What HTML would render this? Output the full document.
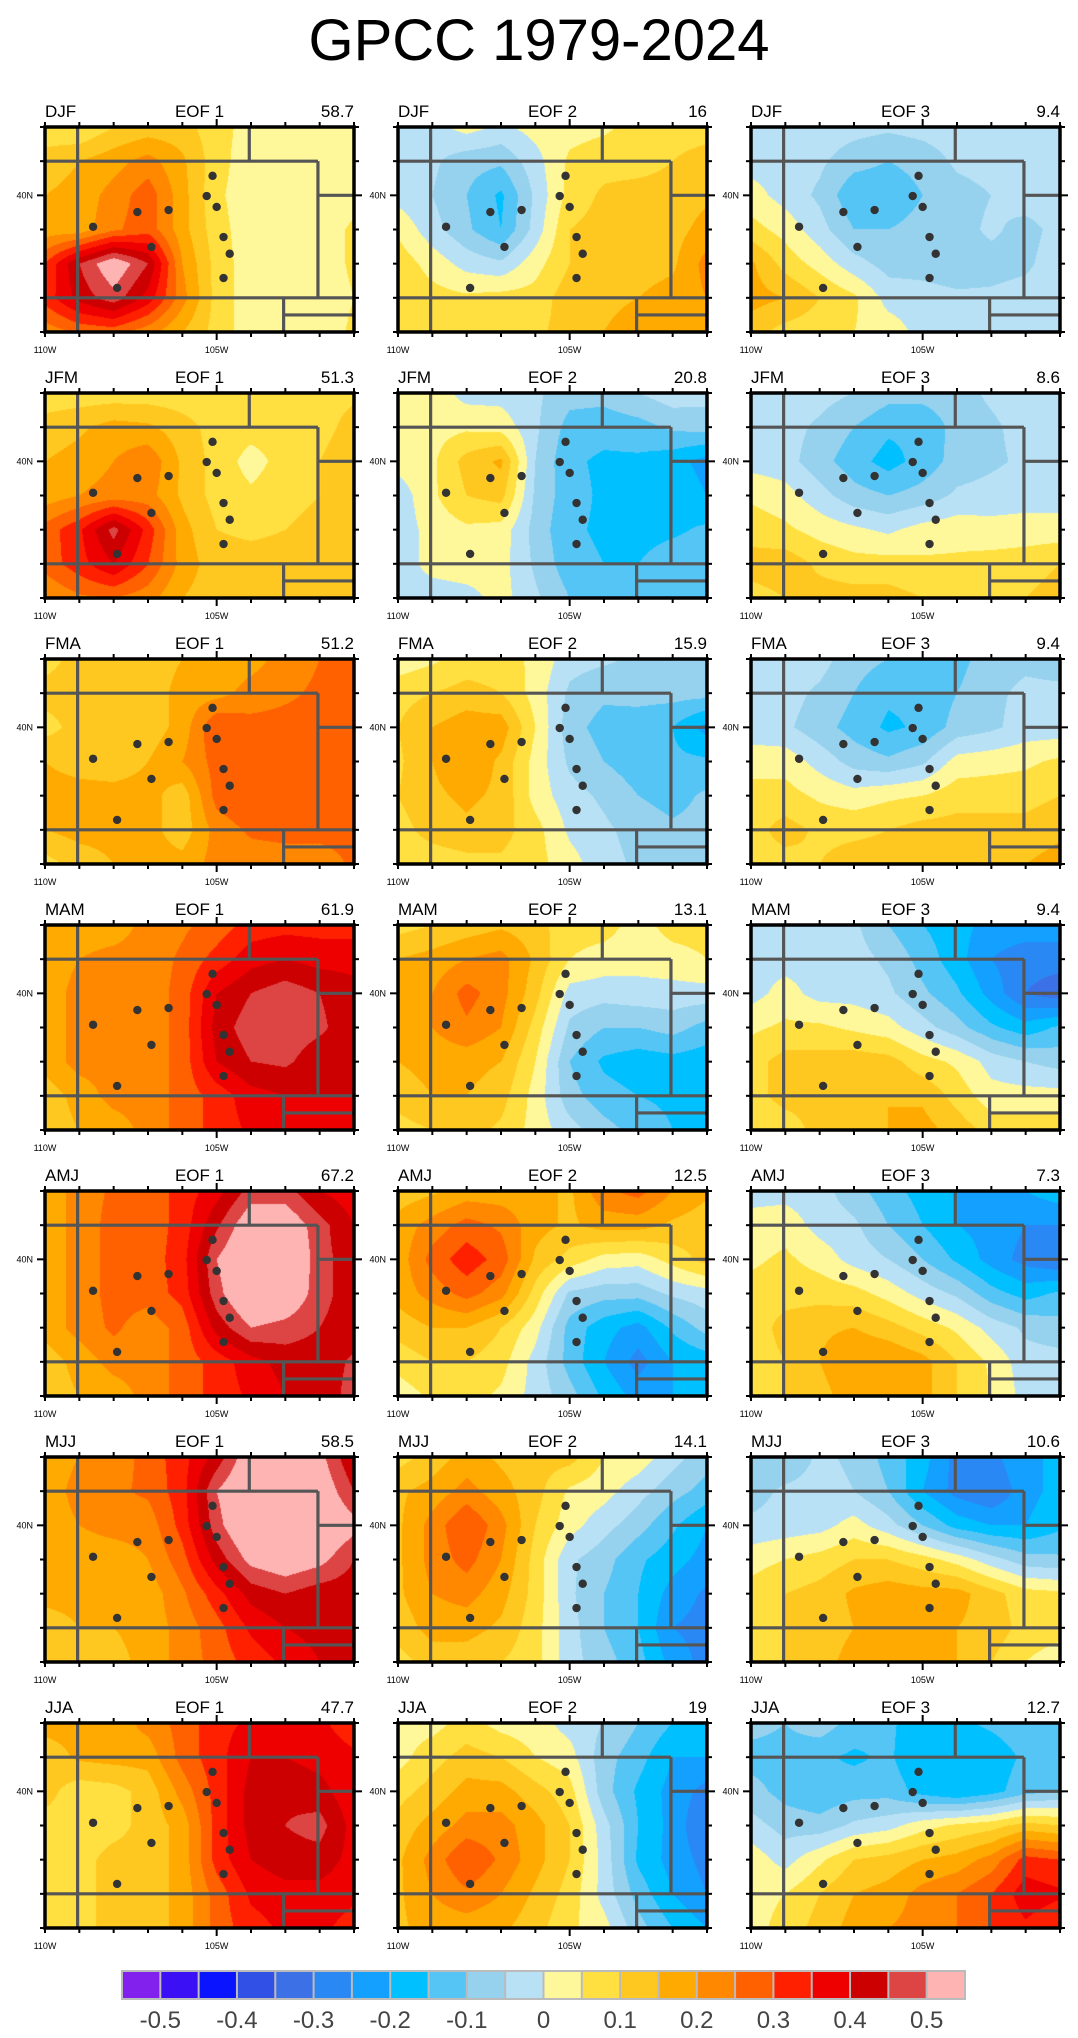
<!DOCTYPE html>
<html><head><meta charset="utf-8">
<style>
html,body{margin:0;padding:0;background:#fff;}
body{width:1078px;height:2038px;position:relative;overflow:hidden;font-family:"Liberation Sans",sans-serif;}
canvas{position:absolute;}
#ov{position:absolute;left:0;top:0;}
</style></head>
<body>
<div id="root"></div>
<svg id="ov" width="1078" height="2038"></svg>
<script>
// Season labels and explained variance (%)
const seasons = ["DJF","JFM","FMA","MAM","AMJ","MJJ","JJA"];
const pctEOF1 = ["58.7","51.3","51.2","61.9","67.2","58.5","47.7"];
const pctEOF2 = ["16","20.8","15.9","13.1","12.5","14.1","19"];
const pctEOF3 = ["9.4","8.6","9.4","9.4","7.3","10.6","12.7"];
const cbarTicks = ["-0.5","-0.4","-0.3","-0.2","-0.1","0","0.1","0.2","0.3","0.4","0.5"];
// EOF loadings x100, rows 42N..36N, cols 110W..101W (1 deg)
const djf1=[[7,5,10,12,12,7,3,2,2,2],[12,15,18,22,16,7,2,2,2,2],[15,17,22,28,17,6,2,2,2,3],[17,17,24,28,17,7,2,2,2,6],[30,45,55,45,20,8,2,2,2,6],[32,42,48,38,22,8,2,2,2,5],[22,26,27,22,15,8,2,2,2,6]];
const djf2=[[-3,-2,2,-1,2,3,4,7,8,8],[-3,-4,-8,-9,-2,6,8,8,10,12],[-2,-5,-10,-16,-4,7,11,12,12,14],[4,-3,-9,-15,-3,10,12,12,13,17],[8,3,-2,-4,3,10,13,13,14,22],[8,7,6,7,7,13,14,15,17,20],[7,7,10,8,9,12,15,17,16,16]];
const djf3=[[-2,-2,-2,-3,-4,-3,-2,-2,-2,-2],[-2,-2,-4,-8,-10,-8,-4,-3,-3,-3],[2,-2,-6,-14,-14,-10,-7,-5,-2,-2],[7,3,-3,-10,-10,-8,-7,-4,-7,-3],[16,8,3,-3,-7,-7,-8,-7,-6,-2],[17,15,10,6,-2,-3,-4,-4,-3,-2],[12,8,7,5,3,-2,-2,-2,-2,-2]];
const jfm1=[[7,7,7,7,7,7,7,7,8,9],[12,14,17,16,12,8,7,7,8,12],[15,17,20,24,14,8,3,7,10,14],[17,20,22,22,14,8,6,8,10,15],[27,34,47,33,17,10,9,10,12,15],[27,33,40,30,18,12,12,12,12,13],[20,24,25,22,15,12,12,12,12,12]];
const jfm2=[[3,3,-2,-2,-4,-8,-8,-5,-2,-3],[2,3,4,3,-4,-12,-13,-12,-9,-8],[2,4,12,16,-5,-14,-16,-16,-18,-22],[-3,4,10,12,-6,-13,-16,-16,-16,-20],[-3,2,4,3,-7,-14,-16,-17,-16,-14],[-3,2,3,2,-6,-13,-15,-15,-12,-12],[-2,-3,-2,2,-4,-10,-12,-12,-12,-12]];
const jfm3=[[-2,-2,-3,-5,-8,-8,-7,-4,-2,-2],[-2,-3,-6,-10,-14,-14,-8,-6,-3,-2],[-2,-3,-8,-13,-17,-13,-8,-6,-4,-2],[4,2,-3,-8,-10,-8,-4,-3,-2,-2],[8,6,3,1,-1,2,3,2,2,2],[12,13,9,7,7,6,6,7,8,10],[8,10,12,12,12,10,8,8,10,12]];
const fma1=[[8,12,12,12,15,17,18,22,25,25],[12,12,12,12,17,18,22,24,26,27],[8,12,12,12,17,30,27,27,27,27],[15,13,12,15,20,27,27,27,27,27],[17,17,17,17,12,27,30,27,27,27],[15,17,17,17,12,22,26,27,27,27],[8,12,15,17,17,22,22,22,22,26]];
const fma2=[[2,4,7,7,4,-3,-4,-6,-5,-7],[8,10,12,10,3,-6,-9,-8,-8,-8],[10,15,18,18,5,-8,-12,-13,-15,-22],[9,15,19,14,3,-6,-10,-13,-14,-14],[10,14,16,14,3,-3,-6,-10,-12,-9],[8,12,14,12,7,-1,-4,-7,-9,-8],[7,7,8,9,7,2,-3,-6,-7,-7]];
const fma3=[[-2,-2,-3,-8,-10,-11,-12,-7,-6,-7],[-2,-3,-6,-10,-14,-14,-10,-6,-4,-4],[-3,-4,-8,-12,-16,-14,-8,-6,-3,-3],[3,3,-2,-7,-9,-6,2,3,4,6],[7,7,4,2,4,5,8,8,8,10],[8,12,9,9,10,12,12,12,12,14],[8,8,10,12,12,12,12,12,15,17]];
const mam1=[[17,17,17,22,24,27,32,33,33,33],[17,20,22,22,26,32,38,40,38,38],[17,22,22,22,27,40,45,48,45,42],[17,22,22,22,27,42,48,48,46,42],[17,22,22,22,27,40,45,46,42,42],[12,17,22,22,27,32,38,40,40,40],[12,15,17,22,27,32,36,38,36,40]];
const mam2=[[8,10,12,14,12,7,7,3,7,7],[15,17,20,22,14,5,3,2,3,5],[15,20,27,22,12,-2,-3,-2,-2,-2],[15,20,24,20,8,-6,-10,-10,-8,-12],[15,17,17,15,5,-10,-16,-18,-17,-18],[12,15,15,12,3,-8,-13,-15,-16,-18],[8,10,12,9,3,-3,-8,-12,-15,-16]];
const mam3=[[-2,-2,-3,-4,-10,-15,-18,-22,-22,-22],[-2,-2,-2,-3,-6,-12,-18,-25,-28,-28],[-2,2,-2,-2,-4,-9,-14,-22,-30,-33],[4,6,6,4,2,-3,-8,-14,-18,-14],[8,12,12,13,12,7,4,-2,-5,-7],[8,12,12,14,15,14,8,2,2,2],[5,7,12,15,15,17,13,8,8,8]];
const amj1=[[17,22,26,27,32,38,47,47,40,37],[17,22,27,27,32,44,55,55,47,40],[17,22,27,27,33,50,58,58,47,42],[17,22,27,27,32,48,58,56,47,42],[17,22,26,22,27,42,50,48,45,42],[12,17,22,22,27,32,38,42,42,46],[12,15,17,22,27,32,36,40,42,47]];
const amj2=[[12,14,17,17,17,14,24,27,20,16],[17,22,27,24,17,14,17,17,14,12],[17,27,33,28,14,8,3,2,7,12],[17,22,27,22,8,-6,-8,-8,-4,-2],[12,15,15,10,2,-12,-18,-22,-14,-8],[7,10,10,7,-2,-12,-20,-27,-20,-18],[2,6,7,4,-2,-8,-16,-22,-20,-16]];
const amj3=[[-2,-2,-3,-8,-13,-17,-20,-22,-20,-17],[2,3,-2,-4,-10,-15,-20,-22,-25,-25],[4,6,3,-2,-5,-10,-16,-22,-27,-30],[7,8,8,7,3,-2,-6,-13,-17,-14],[7,12,14,15,12,8,4,-2,-6,-8],[7,10,15,20,20,17,10,4,-3,-3],[7,10,13,18,20,17,10,5,-2,-3]];
const mjj1=[[17,20,22,27,33,42,55,55,52,40],[17,22,24,26,33,50,58,58,55,45],[17,20,22,22,32,48,58,58,57,52],[17,17,17,20,28,42,52,55,52,45],[17,17,17,17,24,33,42,45,42,42],[12,15,15,17,22,28,36,40,42,42],[12,12,13,17,22,27,32,36,40,42]];
const mjj2=[[8,12,17,14,12,12,5,3,-3,-8],[14,17,22,17,12,4,2,-3,-8,-12],[14,22,30,22,10,2,-3,-8,-14,-20],[14,22,27,20,8,-4,-8,-14,-18,-22],[14,20,22,17,8,-4,-10,-15,-22,-26],[12,17,17,14,7,-3,-10,-15,-25,-27],[8,12,12,10,7,-3,-8,-13,-22,-27]];
const mjj3=[[-10,-9,-4,-6,-12,-18,-27,-27,-20,-20],[-7,-4,-3,-5,-10,-20,-27,-30,-22,-18],[-4,-3,-2,2,-3,-10,-17,-20,-20,-16],[3,5,7,10,10,7,3,-3,-8,-9],[7,10,12,16,18,17,17,12,7,6],[7,10,12,15,17,18,15,13,8,7],[7,10,13,17,20,17,15,10,5,2]];
const jja1=[[17,17,17,22,27,33,36,36,36,32],[12,16,17,17,27,33,40,40,38,36],[12,7,8,12,22,32,42,44,42,36],[8,7,8,12,17,32,42,45,47,38],[7,8,12,12,17,32,40,43,43,38],[7,8,12,12,17,27,36,38,38,36],[7,8,12,12,17,27,33,36,36,33]];
const jja2=[[3,3,7,3,2,-2,-5,-10,-15,-15],[3,8,12,10,5,2,-8,-13,-20,-20],[8,12,17,17,12,7,-8,-16,-22,-27],[12,17,22,22,17,10,-3,-15,-22,-30],[14,22,30,24,17,10,-2,-16,-22,-27],[14,20,24,20,14,8,-2,-12,-20,-25],[14,17,17,16,12,6,2,-8,-15,-20]];
const jja3=[[-8,-10,-7,-12,-14,-18,-16,-14,-12,-10],[-12,-12,-14,-16,-14,-20,-20,-18,-14,-10],[-8,-12,-14,-12,-12,-17,-20,-17,-12,-10],[-3,-7,-8,-4,-2,3,6,8,12,10],[3,-2,4,10,12,15,17,22,32,30],[3,5,10,15,17,22,25,30,38,36],[3,7,12,17,20,22,25,30,34,30]];
// station locations: deg east of 110W, deg south of 42N
const stationLon = [4.88,4.71,5.0,2.69,3.6,1.4,5.2,3.1,5.38,5.2,2.1];
const stationLat = [1.43,2.02,2.34,2.49,2.43,2.92,3.22,3.51,3.71,4.42,4.71];

const fields=[[djf1,djf2,djf3],[jfm1,jfm2,jfm3],[fma1,fma2,fma3],[mam1,mam2,mam3],[amj1,amj2,amj3],[mjj1,mjj2,mjj3],[jja1,jja2,jja3]];
const pcts=[pctEOF1,pctEOF2,pctEOF3];
const palette=["#8220ee","#3c10f5","#0a14ff","#3050e6","#3c70e6","#2a88f5","#14a0ff","#00c0ff","#55c5f5","#96d2ee","#b9e1f5","#fff89a","#ffe040","#ffc820","#ffaa00","#ff8800","#ff6000","#ff2000","#ee0000","#cc0000","#dd4444","#ffb4b4"];
const palRGB=palette.map(h=>[parseInt(h.substr(1,2),16),parseInt(h.substr(3,2),16),parseInt(h.substr(5,2),16)]);
function levelIndex(v){let k=Math.floor((v/100+0.55)/0.05);return Math.max(0,Math.min(21,k));}

const colX=[45,398,751], rowY0=127, rowStep=266, PW=309, PH=205;
const NS="http://www.w3.org/2000/svg";
const svg=document.getElementById('ov');
function mk(tag,attrs,parent){const e=document.createElementNS(NS,tag);for(const k in attrs)e.setAttribute(k,attrs[k]);(parent||svg).appendChild(e);return e;}
const xs=d=>d*PW/9, ys=d=>d*PH/6;

const t=mk('text',{x:539,y:60,'text-anchor':'middle','font-size':58,fill:'#000','font-family':'Liberation Sans, sans-serif'});


t.textContent='GPCC 1979-2024';

for(let r=0;r<7;r++){for(let c=0;c<3;c++){
  const X=colX[c],Y=rowY0+r*rowStep,grid=fields[r][c];
  const cv=document.createElement('canvas');cv.width=PW;cv.height=PH;
  cv.style.left=X+'px';cv.style.top=Y+'px';
  
  
  document.body.insertBefore(cv,svg);
  const ctx=cv.getContext('2d');const img=ctx.createImageData(PW,PH);
  for(let py=0;py<PH;py++){const gy=(py+0.5)/PH*6;let j=Math.min(5,Math.floor(gy));const fy=gy-j;
    for(let px=0;px<PW;px++){const gx=(px+0.5)/PW*9;let i=Math.min(8,Math.floor(gx));const fx=gx-i;
      const v=grid[j][i]*(1-fx)*(1-fy)+grid[j][i+1]*fx*(1-fy)+grid[j+1][i]*(1-fx)*fy+grid[j+1][i+1]*fx*fy;
      const col=palRGB[levelIndex(v)];const o=(py*PW+px)*4;img.data[o]=col[0];img.data[o+1]=col[1];img.data[o+2]=col[2];img.data[o+3]=255;}}
  ctx.putImageData(img,0,0);

  const g=mk('g',{transform:'translate('+X+','+Y+')'});
  
  
  const B=[[0.95,0,0.95,6],[0,1,7.95,1],[5.95,0,5.95,1],[7.95,1,7.95,5],[7.95,2,9,2],[0,5,9,5],[6.95,5,6.95,6],[6.95,5.5,9,5.5]];
  B.forEach(b=>{const l=mk('line',{x1:xs(b[0]),y1:ys(b[1]),x2:xs(b[2]),y2:ys(b[3]),stroke:'#555','stroke-width':3.2},g);
    
    });
  for(let k=0;k<stationLon.length;k++){const d=mk('circle',{cx:xs(stationLon[k]),cy:ys(stationLat[k]),r:4.2,fill:'#333'},g);
    
    }
  const f=mk('rect',{x:0,y:0,width:PW,height:PH,fill:'none',stroke:'#000','stroke-width':3.5},g);
  
  
  for(let i=0;i<=9;i++){const L=(i==5)?8:5,x=xs(i);
    mk('line',{x1:x,y1:0,x2:x,y2:-L,stroke:'#000','stroke-width':2},g);
    mk('line',{x1:x,y1:PH,x2:x,y2:PH+L,stroke:'#000','stroke-width':2},g);}
  for(let j=0;j<=6;j++){const L=(j==2)?8:5,y=ys(j);
    mk('line',{x1:0,y1:y,x2:-L,y2:y,stroke:'#000','stroke-width':2},g);
    mk('line',{x1:PW,y1:y,x2:PW+L,y2:y,stroke:'#000','stroke-width':2},g);}
  const lab=(txt,x,y,anchor,size,name)=>{const e=mk('text',{x:x,y:y,'text-anchor':anchor,'font-size':size,fill:'#000','font-family':'Liberation Sans, sans-serif'},g);
    
    
    e.textContent=txt;};
  lab(seasons[r],0,-10,'start',17,'season-label');
  lab('EOF '+(c+1),PW/2,-10,'middle',17,'eof-label');
  lab(pcts[c][r],PW,-10,'end',17,'variance-label');
  lab('110W',0,PH+21,'middle',9,'x-tick-label');
  lab('105W',xs(5),PH+21,'middle',9,'x-tick-label');
  lab('40N',-12,ys(2)+3,'end',9,'y-tick-label');
}}

const cb=mk('g',{});


const cbX=122,cbW=843,cbY=1971,cbH=28,bw=cbW/22;
mk('rect',{x:cbX-1,y:cbY-1,width:cbW+2,height:cbH+2,fill:'#bbb'},cb);
palette.forEach((p,k)=>{const r=mk('rect',{x:cbX+k*bw+1,y:cbY+1,width:bw-2,height:cbH-2,fill:p},cb);
  
  });
cbarTicks.forEach((s,n)=>{const e=mk('text',{x:cbX+(1+2*n)*bw,y:2028,'text-anchor':'middle','font-size':24,fill:'#444','font-family':'Liberation Sans, sans-serif'},cb);
  
  
  e.textContent=s;});
</script>
</body></html>
